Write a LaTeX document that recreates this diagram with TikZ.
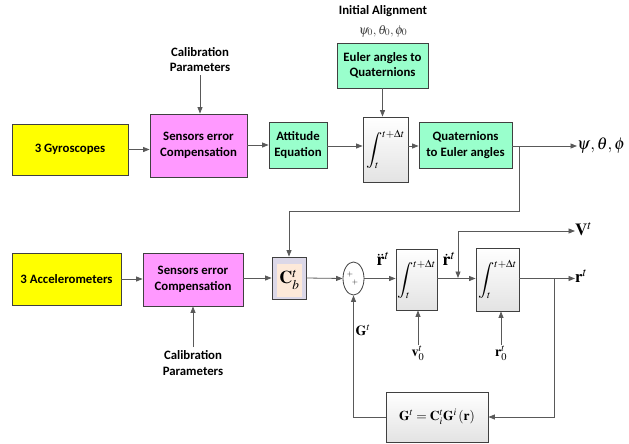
\documentclass[tikz,border=0pt]{standalone}
\usepackage{mathptmx}
\usepackage[no-math]{fontspec}
\setmainfont{Carlito}
\usetikzlibrary{shapes.geometric,arrows.meta,shadows}
\definecolor{yel}{HTML}{FFFF00}
\definecolor{pnk}{HTML}{FF99FF}
\definecolor{grn}{HTML}{99FFCC}
\definecolor{edgec}{HTML}{404040}
\definecolor{linec}{HTML}{595959}
\definecolor{lav}{HTML}{DCD8E8}
\definecolor{peach}{HTML}{FDE9D9}
\begin{document}
\begin{tikzpicture}[x=1pt,y=-1pt,
  blk/.style={draw=edgec,line width=0.8pt,align=center,inner sep=1pt,
    font=\fontsize{12.8}{15.5}\selectfont\bfseries,
    drop shadow={shadow xshift=1.2pt,shadow yshift=-1.2pt,opacity=0.35}},
  intbox/.style={draw=edgec,line width=0.8pt,top color=white,bottom color=gray!22,
    drop shadow={shadow xshift=1.2pt,shadow yshift=-1.2pt,opacity=0.35}},
  intlab/.style={font=\fontsize{18}{18}\selectfont},
  txt/.style={align=center,font=\fontsize{12.8}{15.5}\selectfont\bfseries},
  arr/.style={draw=linec,line width=0.8pt,-{Triangle[length=6.5pt,width=5pt]}},
  plain/.style={draw=linec,line width=0.8pt},
  mlab/.style={inner sep=0pt}
]
\useasboundingbox (0,0) rectangle (629,444);

% ---------- top row ----------
\node[blk,fill=yel,minimum width=116pt,minimum height=51pt] (gyro) at (70,149.5) {3 Gyroscopes};
\node[blk,fill=pnk,minimum width=97pt,minimum height=63pt] (sens1) at (198.5,145.5) {Sensors error\\Compensation};
\node[blk,fill=grn,minimum width=58pt,minimum height=46pt] (att) at (298,145) {Attitude\\Equation};
\node[intbox,minimum width=45pt,minimum height=65pt] (int1) at (385.5,149.5) {};
\node[intlab] (int1l) at (int1) {$\displaystyle\int_{\scriptscriptstyle t}^{\scriptscriptstyle t+\Delta t}$};
\node[blk,fill=grn,minimum width=93pt,minimum height=46pt] (q2e) at (465.5,145) {Quaternions\\to Euler angles};
\node[blk,fill=grn,minimum width=91pt,minimum height=45pt] (e2q) at (382.5,65.5) {Euler angles to\\Quaternions};
\node[txt] (init) at (383,11) {Initial Alignment};
\node[mlab,text=gray!55!black,font=\fontsize{13}{13}\selectfont] (init0) at (383,31) {$\psi_0,\theta_0,\phi_0$};
\node[txt] (cal1) at (200,59.5) {Calibration\\Parameters};
\node[mlab,anchor=west,font=\fontsize{17}{17}\selectfont] (psi) at (577,146) {$\psi,\theta,\phi$};

\draw[arr] (gyro.east) -- (gyro.east -| sens1.west);
\draw[arr] (sens1.east |- att.west) -- (att.west);
\draw[arr] (att.east |- 0,146) -- (int1.west |- 0,146);
\draw[arr] (int1.east |- 0,146) -- (q2e.west |- 0,146);
\draw[arr] (q2e.east |- 0,146) -- (psi.west |- 0,146);
\draw[arr] (e2q.south) -- (e2q.south |- int1.north);
\draw[arr] (cal1.south) -- (cal1.south |- sens1.north);

% ---------- bottom row ----------
\node[blk,fill=yel,minimum width=109pt,minimum height=52pt] (acc) at (66.5,279) {3 Accelerometers};
\node[blk,fill=pnk,minimum width=100pt,minimum height=53pt] (sens2) at (193,279.5) {Sensors error\\Compensation};
\node[draw=edgec,line width=0.8pt,fill=lav,minimum width=34pt,minimum height=42pt,
  drop shadow={shadow xshift=1.2pt,shadow yshift=-1.2pt,opacity=0.35}] (cbt) at (289,278) {};
\node[fill=peach,minimum width=25pt,minimum height=33pt,inner sep=0pt,
  font=\fontsize{18}{18}\selectfont] (cbti) at (289.5,280) {$\mathbf{C}_b^t$};
\node[txt] (cal2) at (193,363) {Calibration\\Parameters};
\node[draw=edgec,line width=0.8pt,fill=white,ellipse,minimum width=21pt,minimum height=33pt,inner sep=0pt] (sum) at (353.5,278.5) {};
\node[mlab,font=\fontsize{8}{8}\selectfont] (p1) at (350,274) {$+$};
\node[mlab,font=\fontsize{8}{8}\selectfont] (p2) at (355,282) {$+$};
\node[intbox,minimum width=41pt,minimum height=61pt] (int2) at (416.5,279.5) {};
\node[intlab] (int2l) at (int2) {$\displaystyle\int_{\scriptscriptstyle t}^{\scriptscriptstyle t+\Delta t}$};
\node[intbox,minimum width=43pt,minimum height=63pt] (int3) at (497.5,279.5) {};
\node[intlab] (int3l) at (int3) {$\displaystyle\int_{\scriptscriptstyle t}^{\scriptscriptstyle t+\Delta t}$};
\node[intbox,minimum width=102pt,minimum height=50pt,font=\fontsize{13.5}{13.5}\selectfont] (gbox) at (437,417) {$\mathbf{G}^t=\mathbf{C}_i^t\mathbf{G}^i\,(\mathbf{r})$};

\node[mlab,font=\fontsize{18}{18}\selectfont] (rdd) at (383,259) {$\ddot{\mathbf{r}}^t$};
\node[mlab,font=\fontsize{18}{18}\selectfont] (rd) at (449,259) {$\dot{\mathbf{r}}^t$};
\node[mlab,anchor=west,font=\fontsize{17}{17}\selectfont] (vt) at (575,229) {$\mathbf{V}^t$};
\node[mlab,anchor=west,font=\fontsize{17}{17}\selectfont] (rt) at (575,276) {$\mathbf{r}^t$};
\node[mlab,font=\fontsize{14}{14}\selectfont] (gt) at (363,330) {$\mathbf{G}^t$};
\node[mlab,font=\fontsize{14}{14}\selectfont] (v0) at (418,353) {$\mathbf{v}_0^t$};
\node[mlab,font=\fontsize{14}{14}\selectfont] (r0) at (501,353) {$\mathbf{r}_0^t$};

\coordinate (br1) at (519,146);
\coordinate (jr) at (458,278);
\coordinate (vtop) at (458,231);
\coordinate (br2) at (554,278);

\draw[arr] (acc.east) -- (acc.east -| sens2.west);
\draw[arr] (sens2.east |- cbt.west) -- (cbt.west);
\draw[arr] (br1) -- (519,211) -| (cbt.north);
\draw[arr] (cal2.north) -- (cal2.north |- sens2.south);
\draw[arr] (cbt.east) -- (sum.west);
\draw[arr] (sum.east) -- (sum.east -| int2.west);
\draw[arr] (int2.east |- sum.east) -- (int3.west |- sum.east);
\draw[arr] (vtop) -- (jr);
\draw[arr] (vtop) -- (vtop -| vt.west);
\draw[arr] (int3.east |- sum.east) -- (rt.west |- sum.east);
\draw[arr] (br2) |- (gbox.east);
\draw[arr] (gbox.west) -| (sum.south);
\draw[arr] (v0.north) -- (v0.north |- int2.south);
\draw[arr] (r0.north) -- (r0.north |- int3.south);
\end{tikzpicture}
\end{document}
